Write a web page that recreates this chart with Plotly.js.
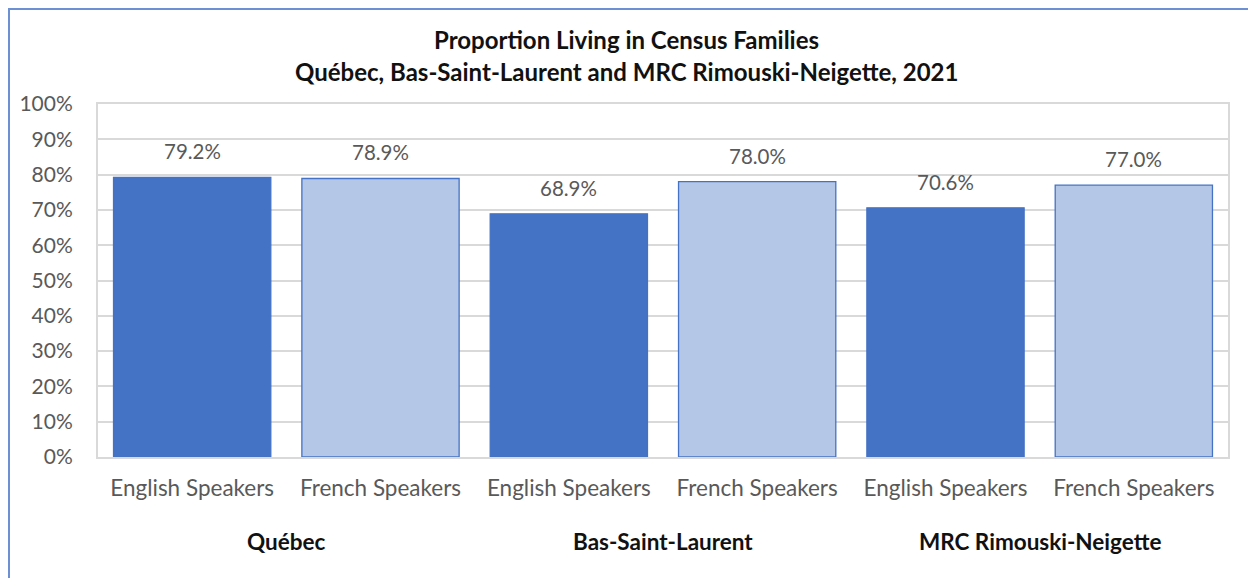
<!DOCTYPE html>
<html>
<head>
<meta charset="utf-8">
<script src="https://cdn.plot.ly/plotly-3.0.1.min.js"></script>
<style>
html,body{margin:0;padding:0;overflow:hidden;background:#fff;}
#chart{width:1248px;height:578px;position:absolute;left:0;top:0;}
#frame{position:absolute;left:8px;top:8px;width:1400px;height:800px;border-left:2px solid #6d8fd3;border-top:2px solid #6d8fd3;pointer-events:none;}
</style>
</head>
<body>
<div id="chart"></div>
<div id="frame"></div>
<script>
// Data
const regions = ["Québec", "Bas-Saint-Laurent", "MRC Rimouski-Neigette"];
const speakerGroups = ["English Speakers", "French Speakers"];
const englishValues = [79.2, 68.9, 70.6];
const frenchValues = [78.9, 78.0, 77.0];
const yTickValues = [0, 10, 20, 30, 40, 50, 60, 70, 80, 90, 100];
const titleLines = ["Proportion Living in Census Families", "Québec, Bas-Saint-Laurent and MRC Rimouski-Neigette, 2021"];

const FONT = "Lato, 'Open Sans', sans-serif";
const darkBlue = "#4472C4";
const lightBlue = "#B4C7E7";

const W = 1248, H = 578;
const M = {l: 98, r: 20, t: 104, b: 121};

// Build flat series
const xs = [], ys = [], labels = [], colors = [];
regions.forEach((r, i) => {
  [englishValues[i], frenchValues[i]].forEach((v, j) => {
    xs.push(i * 2 + j);
    ys.push(v);
    labels.push(speakerGroups[j]);
    colors.push(j === 0 ? darkBlue : lightBlue);
  });
});

const trace = {
  type: "bar",
  x: xs,
  y: ys,
  width: 0.835,
  marker: {color: colors, line: {color: darkBlue, width: 1.3}},
  hoverinfo: "skip"
};

const annotations = [];
xs.forEach((x, k) => {
  annotations.push({
    x: x, y: ys[k], xref: "x", yref: "y",
    text: ys[k].toFixed(1) + "%",
    showarrow: false, yanchor: "middle", yshift: 26,
    font: {family: FONT, size: 20.5, color: "#595959"}
  });
});
regions.forEach((r, i) => {
  annotations.push({
    x: i * 2 + 0.5, y: 0, xref: "x", yref: "y",
    text: "<b>" + r + "</b>", showarrow: false,
    yanchor: "middle", yshift: -84,
    font: {family: FONT, size: 22.5, color: "#111111"}
  });
});
const titleX = (W / 2 + 2 - M.l) / (W - M.l - M.r);
annotations.push({
  x: titleX, y: 1, xref: "paper", yref: "paper", yanchor: "middle", yshift: 65,
  text: "<b>" + titleLines[0] + "</b>", showarrow: false,
  font: {family: FONT, size: 24, color: "#111111"}
});
annotations.push({
  x: titleX, y: 1, xref: "paper", yref: "paper", yanchor: "middle", yshift: 33,
  text: "<b>" + titleLines[1] + "</b>", showarrow: false,
  font: {family: FONT, size: 24, color: "#111111"}
});

const layout = {
  width: W, height: H,
  margin: M,
  paper_bgcolor: "#ffffff",
  plot_bgcolor: "#ffffff",
  showlegend: false,
  bargap: 0,
  xaxis: {
    range: [-0.5, 5.5],
    tickmode: "array", tickvals: xs, ticktext: labels,
    showgrid: false, zeroline: false,
    showline: true, linecolor: "#d9d9d9", linewidth: 2, mirror: true,
    ticks: "", ticklabelstandoff: 10,
    tickfont: {family: FONT, size: 22.5, color: "#595959"},
    fixedrange: true
  },
  yaxis: {
    range: [0, 100],
    tickmode: "array", tickvals: yTickValues,
    ticktext: yTickValues.map(v => v + "%"),
    showgrid: true, gridcolor: "#d9d9d9", gridwidth: 2,
    zeroline: false,
    showline: true, linecolor: "#d9d9d9", linewidth: 2, mirror: true,
    ticks: "", ticklabelstandoff: 19,
    tickfont: {family: FONT, size: 21, color: "#595959"},
    fixedrange: true
  },
  annotations: annotations
};

Plotly.newPlot("chart", [trace], layout, {staticPlot: true});
</script>
</body>
</html>
